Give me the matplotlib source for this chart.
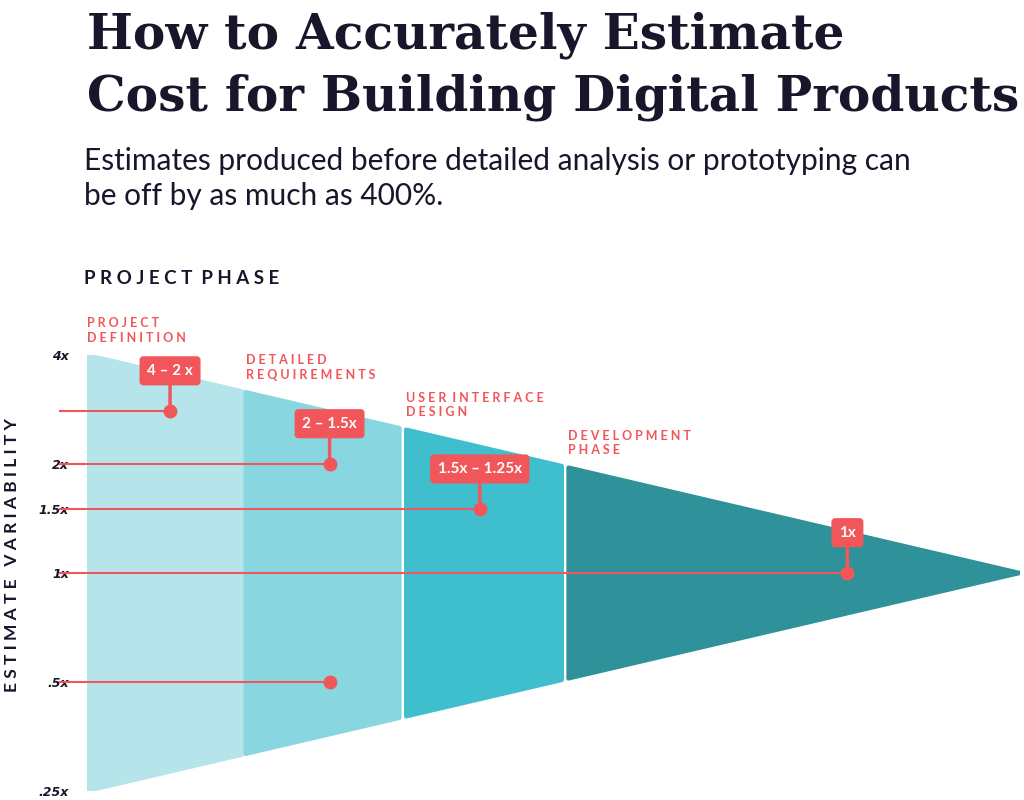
import matplotlib
matplotlib.use("Agg")
import matplotlib.pyplot as plt
from matplotlib.patches import Polygon
import numpy as np

# ---- data ----
phase_names = ["P R O J E C T\nD E F I N I T I O N", "D E T A I L E D\nR E Q U I R E M E N T S",
               "U S E R  I N T E R F A C E\nD E S I G N", "D E V E L O P M E N T\nP H A S E"]
phase_start = [0.0, 17.0, 34.2, 51.6]      # progress (%) where each phase begins
phase_end = [16.6, 33.5, 50.9, 100.0]       # progress (%) where each phase ends
phase_colors = ["#b5e4eb", "#88d6e0", "#3fbfcd", "#2f9199"]
cone_top, cone_bottom, cone_end = 4.0, 0.25, 1.0

tick_values = [4, 2, 1.5, 1, 0.5, 0.25]
tick_labels = ["4x", "2x", "1.5x", "1x", ".5x", ".25x"]

callout_labels = ["4 – 2 x", "2 – 1.5x", "1.5x – 1.25x", "1x"]
callout_x = [8.9, 26.0, 42.1, 81.5]
callout_y = [2.8, 2.0, 1.5, 1.0]
low_dot_x, low_dot_y = 26.0, 0.5

RED = "#f1575a"
NAVY = "#17162b"

fig = plt.figure(figsize=(10.24, 8), dpi=100)
fig.patch.set_facecolor("white")
ax = fig.add_axes([87/1024, 9/800, 933/1024, 436/800])
ax.set_yscale("log", base=2)
ax.set_xlim(0, 100)
ax.set_ylim(cone_bottom, cone_top)
for s in ax.spines.values():
    s.set_visible(False)
ax.set_xticks([])
ax.minorticks_off()
ax.set_yticks(tick_values)
ax.set_yticklabels(tick_labels, fontstyle="italic", fontsize=9, color=NAVY, fontweight="bold")
ax.tick_params(axis="y", length=0, pad=13)

lt, lb, le = np.log2(cone_top), np.log2(cone_bottom), np.log2(cone_end)
def top(x): return 2 ** (lt + (le - lt) * x / 100)
def bot(x): return 2 ** (lb + (le - lb) * x / 100)

for i, (a, b) in enumerate(zip(phase_start, phase_end)):
    pts = [(a, top(a)), (b, top(b)), (b, bot(b)), (a, bot(a))]
    ax.add_patch(Polygon(pts, closed=True, facecolor=phase_colors[i],
                         edgecolor=phase_colors[i], linewidth=3, joinstyle="round", zorder=1))
    ax.annotate(phase_names[i], xy=(a, top(a)), xytext=(0, 8), textcoords="offset points",
                ha="left", va="bottom", color=RED, fontsize=9, fontweight="bold",
                family="Lato", linespacing=1.25, annotation_clip=False)

# horizontal guide lines + callouts
for lab, x, y in zip(callout_labels, callout_x, callout_y):
    ax.plot([-2.9, x], [y, y], color=RED, lw=1.5, clip_on=False, zorder=2)
    ax.plot([x], [y], "o", color=RED, ms=9, zorder=4)
    ax.annotate(lab, xy=(x, y), xytext=(0, 29), textcoords="offset points",
                ha="center", va="center", color="white", fontsize=11, fontweight="bold",
                family="Lato", zorder=5,
                bbox=dict(boxstyle="round,pad=0.45,rounding_size=0.2", fc=RED, ec=RED),
                arrowprops=dict(arrowstyle="-", color=RED, lw=2.5, shrinkA=0, shrinkB=0))
ax.plot([-2.9, low_dot_x], [low_dot_y, low_dot_y], color=RED, lw=1.5, clip_on=False, zorder=2)
ax.plot([low_dot_x], [low_dot_y], "o", color=RED, ms=9, zorder=4)

# texts
fig.text(87/1024, 1 - 35/800, "How to Accurately Estimate", fontsize=35, fontweight="bold",
         family="DejaVu Serif", color=NAVY, va="center")
fig.text(87/1024, 1 - 97/800, "Cost for Building Digital Products", fontsize=35, fontweight="bold",
         family="DejaVu Serif", color=NAVY, va="center")
fig.text(84/1024, 1 - 161/800, "Estimates produced before detailed analysis or prototyping can",
         fontsize=21.5, family="Lato", color=NAVY, va="center")
fig.text(84/1024, 1 - 196/800, "be off by as much as 400%.",
         fontsize=21.5, family="Lato", color=NAVY, va="center")
fig.text(84/1024, 1 - 279/800, "P R O J E C T   P H A S E".replace("   ", "  "), fontsize=13.5,
         fontweight="bold", family="Lato", color=NAVY, va="center")
fig.text(12/1024, 1 - 555/800, "E S T I M A T E   V A R I A B I L I T Y", fontsize=12.5,
         fontweight="bold", family="Lato", color=NAVY, rotation=90, ha="center", va="center")

fig.savefig("out.png", dpi=100, facecolor="white")
